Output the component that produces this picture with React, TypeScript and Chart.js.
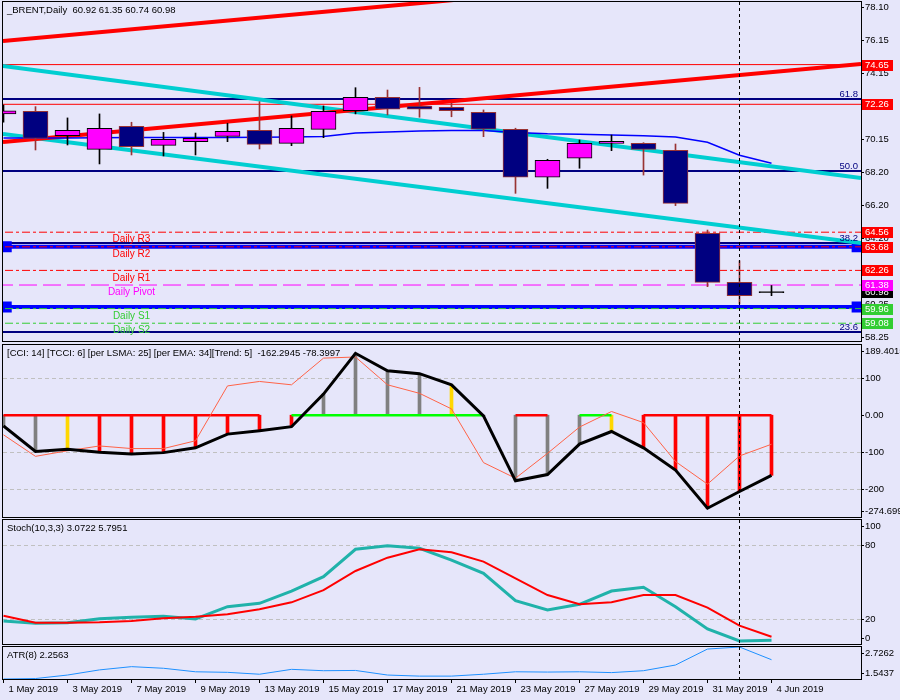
import React, { useEffect, useRef } from "react";
import { Chart, registerables } from "chart.js";

Chart.register(...registerables);

// ---------------- data ----------------
const dates = [
  "1 May 2019", "2 May 2019", "3 May 2019", "6 May 2019", "7 May 2019", "8 May 2019",
  "9 May 2019", "10 May 2019", "13 May 2019", "14 May 2019", "15 May 2019", "16 May 2019",
  "17 May 2019", "20 May 2019", "21 May 2019", "22 May 2019", "23 May 2019", "24 May 2019",
  "27 May 2019", "28 May 2019", "29 May 2019", "30 May 2019", "31 May 2019", "3 Jun 2019", "4 Jun 2019",
];
const opens = [71.68, 71.84, 70.37, 69.55, 70.94, 69.79, 70.01, 70.33, 70.69, 69.91, 70.75, 71.87, 72.68, 72.16, 72.08, 71.78, 70.76, 67.87, 69.01, 69.91, 69.91, 69.49, 64.49, 61.54, 60.92];
const highs = [72.22, 72.12, 71.44, 71.68, 71.18, 70.57, 70.53, 71.12, 72.42, 71.56, 72.16, 73.26, 73.12, 73.28, 72.32, 71.92, 70.82, 68.95, 70.11, 70.41, 69.95, 69.87, 64.69, 62.84, 61.35];
const lows = [71.19, 69.51, 69.81, 68.67, 69.21, 69.15, 69.21, 70.01, 69.57, 69.77, 70.25, 71.68, 71.62, 71.48, 71.51, 70.31, 66.9, 67.2, 68.41, 69.47, 68.0, 66.16, 61.28, 60.24, 60.74];
const closes = [71.87, 70.21, 70.69, 70.82, 69.71, 70.15, 70.21, 70.63, 69.85, 70.82, 71.84, 72.68, 71.96, 71.96, 71.87, 70.76, 67.87, 68.89, 69.91, 70.03, 69.55, 66.3, 61.54, 60.74, 60.98];
const maLine = [70.23, 70.23, 70.23, 70.25, 70.26, 70.26, 70.26, 70.26, 70.27, 70.29, 70.32, 70.53, 70.59, 70.65, 70.69, 70.69, 70.56, 70.48, 70.45, 70.41, 70.37, 70.29, 69.97, 69.19, 68.71];

// trend lines: [price at left edge, price at right edge]
const channelUpper = [76.07, 80.77];
const channelLower = [69.99, 74.69];
const cyanUpper = [74.57, 67.82];
const cyanLower = [70.47, 63.91];

const redLevels = [74.65, 72.26];
const blueLevels = [63.68, 60.06];
const fibNames = ["61.8", "50.0", "38.2", "23.6"];
const fibValues = [72.58, 68.24, 63.91, 58.55];
const pivotNames = ["Daily R3", "Daily R2", "Daily R1", "Daily Pivot", "Daily S1", "Daily S2"];
const pivotValues = [64.56, 63.68, 62.26, 61.38, 59.96, 59.08];
const pivotKinds = ["R", "R", "R", "P", "S", "S"];
const lastPrice = 60.98;
const priceTicks = [78.1, 76.15, 74.15, 72.15, 70.15, 68.2, 66.2, 64.2, 62.25, 60.25, 58.25];

const tcci = [-29, -98, -92, -100, -105, -101, -88, -51, -42, -31, 57, 167, 120, 112, 82, -2, -177, -160, -78, -44, -88, -148, -251, -206, -162.2945];
const cci = [-53, -111, -96, -83, -90, -90, -69, 79, 91, 82, 154, 157, 82, 59, 17, -128, -170, -103, -32, 10, -20, -125, -186, -110, -78.3997];
const histKind = ["g", "g", "y", "r", "r", "r", "r", "r", "r", "r", "g", "g", "g", "g", "y", "g", "g", "g", "g", "y", "r", "r", "r", "r", "r"];
const trendUp = [0, 0, 0, 0, 0, 0, 0, 0, 0, 1, 1, 1, 1, 1, 1, 1, 0, 0, 1, 1, 0, 0, 0, 0, 0];
const cciTicks = [189.4015, 100, 0, -100, -200, -274.699];
const cciTickText = ["189.4015", "100", "0.00", "-100", "-200", "-274.699"];
const cciGrid = [100, -100, -200];

const stochMain = [18.5, 16.7, 17.2, 20.4, 21.5, 22.3, 20.2, 30.1, 32.8, 42.7, 54.3, 76.4, 79.3, 77.2, 67.7, 57, 34.9, 27.4, 32, 42.7, 45.7, 30.1, 12.1, 2.4, 3.0722];
const stochSignal = [22.8, 17.2, 17.2, 17.5, 18.5, 20.7, 22, 24, 28, 33.6, 43.5, 58.9, 69.6, 76.4, 74, 66.4, 53, 39.5, 32, 33.6, 39.5, 39.5, 29.3, 14.8, 5.7951];
const stochTicks = [100, 80, 20, 0];
const stochGrid = [80, 20];

const atr = [1.5437, 1.56, 1.69, 1.88, 2.0, 1.94, 1.81, 1.79, 1.72, 1.9, 1.85, 1.86, 1.69, 1.65, 1.65, 1.72, 1.81, 1.8, 1.81, 1.78, 1.85, 2.06, 2.65, 2.7262, 2.2563];
const atrTicks = [2.7262, 1.5437];

const xTickIdx = [0, 2, 4, 6, 8, 10, 12, 14, 16, 18, 20, 22, 24];
const cursorIndex = 23;
const pivotLabelBar = 4;

// ---------------- layout / style ----------------
const FONT = '"Liberation Sans", Arial, sans-serif';
const BG = "#E6E6FA";
const X_MIN = -1 / 64;
const X_MAX = X_MIN + 858 / 32;
const PRICE_MAX = 78.419;
const PRICE_MIN = 58.01;
const RED = "#FF0000";
const GREEN = "#32CD32";
const MAGENTA = "#FF00FF";
const NAVY = "#000080";

function hLine(value: number, color: string, width: number, dash: number[], order: number) {
  return {
    type: "line",
    data: [{ x: X_MIN - 1, y: value }, { x: X_MAX + 1, y: value }],
    borderColor: color,
    borderWidth: width,
    borderDash: dash,
    pointRadius: 0,
    order,
    clip: 0,
  };
}

function edgeLine(vals: number[], color: string, width: number, order: number) {
  return {
    type: "line",
    data: [{ x: X_MIN, y: vals[0] }, { x: X_MAX, y: vals[1] }],
    borderColor: color,
    borderWidth: width,
    pointRadius: 0,
    order,
    clip: 0,
  };
}

function seriesLine(vals: number[], color: string, width: number, order: number) {
  return {
    type: "line",
    data: vals.map((v, i) => ({ x: i, y: v })),
    borderColor: color,
    borderWidth: width,
    pointRadius: 0,
    tension: 0,
    order,
    clip: 0,
  };
}

function decor(id: string, o: any) {
  return {
    id,
    beforeDatasetsDraw(chart: any) {
      if (!o.grid) return;
      const { ctx, chartArea: a, scales } = chart;
      const y = scales.y;
      ctx.save();
      ctx.strokeStyle = "#C0C0C0";
      ctx.lineWidth = 1;
      ctx.setLineDash([4, 3]);
      o.grid.forEach((v: number) => {
        const py = Math.round(y.getPixelForValue(v)) + 0.5;
        ctx.beginPath();
        ctx.moveTo(a.left, py);
        ctx.lineTo(a.right, py);
        ctx.stroke();
      });
      ctx.restore();
    },
    afterDatasetsDraw(chart: any) {
      const { ctx, chartArea: a, scales } = chart;
      const x = scales.x;
      const y = scales.y;
      ctx.save();
      // cursor line
      const vx = Math.round(x.getPixelForValue(cursorIndex) - 0.5) + 0.5;
      ctx.strokeStyle = "#000";
      ctx.lineWidth = 1;
      ctx.setLineDash([3, 3]);
      ctx.beginPath();
      ctx.moveTo(vx, a.top);
      ctx.lineTo(vx, a.bottom);
      ctx.stroke();
      ctx.setLineDash([]);
      // frame
      ctx.strokeRect(a.left - 0.5, a.top - 0.5, a.right - a.left + 1, a.bottom - a.top + 1);
      // header
      ctx.fillStyle = "#000";
      ctx.font = `9.5px ${FONT}`;
      ctx.textBaseline = "middle";
      ctx.textAlign = "left";
      ctx.fillText(o.header, 7, a.top + 8.5);
      // axis labels
      o.ticks.forEach((v: number, i: number) => {
        const py = y.getPixelForValue(v);
        const ty = o.clamp ? Math.min(Math.max(py, a.top + 6), a.bottom - 6) : py;
        ctx.beginPath();
        ctx.moveTo(a.right, Math.round(ty) + 0.5);
        ctx.lineTo(a.right + 3, Math.round(ty) + 0.5);
        ctx.stroke();
        ctx.fillText(o.tickText[i], 865, ty + 0.5);
      });
      if (o.extra) o.extra(chart, ctx);
      ctx.restore();
    },
  };
}

function baseOptions(yMin: number, yMax: number, padding: any, showX: boolean) {
  const x: any = showX
    ? {
        type: "linear",
        min: X_MIN,
        max: X_MAX,
        offset: false,
        display: true,
        position: "bottom",
        afterBuildTicks: (s: any) => {
          s.ticks = xTickIdx.map((v) => ({ value: v }));
        },
        afterFit: (s: any) => {
          s.height = 21;
        },
        ticks: {
          autoSkip: false,
          maxRotation: 0,
          align: "start",
          labelOffset: 5,
          padding: 1,
          color: "#000",
          font: { family: FONT, size: 9.5 },
          callback: (v: number) => dates[v],
        },
        grid: { drawOnChartArea: false, drawTicks: true, tickLength: 4, color: "#000", offset: false },
        border: { display: true, color: "#000" },
      }
    : { type: "linear", min: X_MIN, max: X_MAX, offset: false, display: false };
  return {
    responsive: false,
    maintainAspectRatio: false,
    animation: false,
    devicePixelRatio: 1,
    events: [],
    layout: { padding },
    plugins: { legend: { display: false }, tooltip: { enabled: false } },
    scales: {
      x,
      y: { type: "linear", min: yMin, max: yMax, display: false, beginAtZero: false },
    },
  };
}

// ---------------- panels ----------------
function buildMain() {
  const bull = closes.map((c, i) => c >= opens[i]);
  const doji = closes.map((c, i) => Math.abs(c - opens[i]) < 0.1);
  const edge = bull.map((b) => (b ? "#000000" : "#993333"));
  const pivotColor = (k: string) => (k === "R" ? RED : k === "P" ? MAGENTA : GREEN);
  const datasets: any[] = [
    {
      type: "bar",
      data: opens.map((o, i) => ({ x: i, y: [o, closes[i]] })),
      backgroundColor: bull.map((b, i) => (doji[i] ? edge[i] : b ? MAGENTA : NAVY)),
      borderColor: edge,
      borderWidth: 1,
      borderSkipped: false,
      barThickness: 25,
      grouped: false,
      order: 0,
      clip: 0,
    },
    {
      type: "bar",
      data: lows.map((l, i) => ({ x: i, y: [l, highs[i]] })),
      backgroundColor: edge,
      borderWidth: 0,
      barThickness: 1,
      grouped: false,
      order: 1,
      clip: 0,
    },
    seriesLine(maLine, "#0000FF", 1.5, 2),
    edgeLine(channelUpper, RED, 4, 3),
    edgeLine(channelLower, RED, 4, 3),
    edgeLine(cyanUpper, "#00CED1", 4, 3),
    edgeLine(cyanLower, "#00CED1", 4, 3),
  ];
  pivotValues.forEach((v, i) => {
    const k = pivotKinds[i];
    datasets.push(hLine(v, pivotColor(k), 1, k === "P" ? [18, 6] : [8, 3, 3, 3], 4));
  });
  blueLevels.forEach((v) => {
    datasets.push({
      type: "line",
      data: [
        { x: X_MIN - 1, y: v },
        { x: X_MIN + 0.1, y: v },
        { x: X_MAX - 0.12, y: v },
        { x: X_MAX + 1, y: v },
      ],
      borderColor: "#0000FF",
      borderWidth: 4,
      pointStyle: "rect",
      pointRadius: [0, 5, 5, 0],
      pointBackgroundColor: "#0000FF",
      pointBorderColor: "#0000FF",
      order: 5,
      clip: 0,
    });
  });
  fibValues.forEach((v) => datasets.push(hLine(v, NAVY, 2, [], 6)));
  redLevels.forEach((v) => datasets.push(hLine(v, RED, 1, [], 6)));

  const boxes = [
    { v: redLevels[0], bg: RED },
    { v: redLevels[1], bg: RED },
    { v: pivotValues[0], bg: RED },
    { v: pivotValues[1], bg: RED },
    { v: pivotValues[2], bg: RED },
    { v: lastPrice, bg: "#000000" },
    { v: pivotValues[3], bg: MAGENTA },
    { v: pivotValues[4], bg: GREEN },
    { v: pivotValues[5], bg: GREEN },
  ];

  const extra = (chart: any, ctx: any) => {
    const { chartArea: a, scales } = chart;
    const x = scales.x;
    const y = scales.y;
    ctx.textBaseline = "middle";
    ctx.font = `10px ${FONT}`;
    ctx.textAlign = "center";
    const lx = x.getPixelForValue(pivotLabelBar);
    pivotValues.forEach((v, i) => {
      ctx.fillStyle = pivotColor(pivotKinds[i]);
      ctx.fillText(pivotNames[i], lx, y.getPixelForValue(v) + 7.5);
    });
    ctx.textAlign = "right";
    ctx.fillStyle = NAVY;
    ctx.font = `9.5px ${FONT}`;
    fibValues.forEach((v, i) => ctx.fillText(fibNames[i], a.right - 3, y.getPixelForValue(v) - 5));
    ctx.textAlign = "left";
    boxes.forEach((b) => {
      const py = Math.round(y.getPixelForValue(b.v));
      ctx.fillStyle = b.bg;
      ctx.fillRect(a.right + 1, py - 5, 31, 11);
      ctx.fillStyle = "#FFFFFF";
      ctx.fillText(b.v.toFixed(2), a.right + 4, py + 0.5);
    });
  };

  return {
    type: "bar",
    data: { datasets },
    options: baseOptions(PRICE_MIN, PRICE_MAX, { left: 3, right: 39, top: 2, bottom: 2 }, false),
    plugins: [
      decor("mainDecor", {
        header: "_BRENT,Daily  60.92 61.35 60.74 60.98",
        ticks: priceTicks,
        tickText: priceTicks.map((v) => v.toFixed(2)),
        clamp: false,
        extra,
      }),
    ],
  };
}

function buildCci() {
  const histColor = histKind.map((k) => (k === "r" ? RED : k === "y" ? "#FFD700" : "#808080"));
  const datasets: any[] = [
    seriesLine(tcci, "#000000", 3, 0),
    seriesLine(cci, "#FF6347", 1, 1),
    {
      type: "line",
      data: tcci.map((_, i) => ({ x: i, y: 0 })),
      borderWidth: 2.5,
      pointRadius: 0,
      order: 2,
      clip: 0,
      segment: {
        borderColor: (c: any) =>
          trendUp[c.p0DataIndex] !== trendUp[c.p1DataIndex]
            ? "rgba(0,0,0,0)"
            : trendUp[c.p0DataIndex] === 1
            ? "#00FF00"
            : RED,
      },
    },
    {
      type: "bar",
      data: tcci.map((v, i) => ({ x: i, y: [0, v] })),
      backgroundColor: histColor,
      borderWidth: 0,
      barThickness: 3,
      grouped: false,
      order: 3,
      clip: 0,
    },
  ];
  return {
    type: "bar",
    data: { datasets },
    options: baseOptions(cciTicks[cciTicks.length - 1], cciTicks[0], { left: 3, right: 39, top: 2, bottom: 1 }, false),
    plugins: [
      decor("cciDecor", {
        header: "[CCI: 14] [TCCI: 6] [per LSMA: 25] [per EMA: 34][Trend: 5]  -162.2945 -78.3997",
        ticks: cciTicks,
        tickText: cciTickText,
        clamp: true,
        grid: cciGrid,
      }),
    ],
  };
}

function buildStoch() {
  const datasets: any[] = [seriesLine(stochSignal, RED, 2, 0), seriesLine(stochMain, "#20B2AA", 3, 1)];
  return {
    type: "line",
    data: { datasets },
    options: baseOptions(0, 100, { left: 3, right: 39, top: 2, bottom: 1 }, false),
    plugins: [
      decor("stochDecor", {
        header: "Stoch(10,3,3) 3.0722 5.7951",
        ticks: stochTicks,
        tickText: stochTicks.map((v) => String(v)),
        clamp: true,
        grid: stochGrid,
      }),
    ],
  };
}

function buildAtr() {
  const datasets: any[] = [seriesLine(atr, "#1E90FF", 1, 0)];
  return {
    type: "line",
    data: { datasets },
    options: baseOptions(atrTicks[1], atrTicks[0], { left: 3, right: 39, top: 2, bottom: 0 }, true),
    plugins: [
      decor("atrDecor", {
        header: "ATR(8) 2.2563",
        ticks: atrTicks,
        tickText: atrTicks.map((v) => v.toFixed(4)),
        clamp: true,
      }),
    ],
  };
}

function Panel({ top, height, build }: { top: number; height: number; build: () => any }) {
  const ref = useRef<HTMLCanvasElement | null>(null);
  useEffect(() => {
    if (!ref.current) return;
    const chart = new Chart(ref.current, build());
    return () => chart.destroy();
  }, [build]);
  return (
    <canvas
      ref={ref}
      width={900}
      height={height}
      style={{ position: "absolute", left: 0, top, width: 900, height, display: "block" }}
    />
  );
}

export default function App() {
  return (
    <div
      style={{
        position: "fixed",
        left: 0,
        top: 0,
        width: 900,
        height: 700,
        background: BG,
        overflow: "hidden",
      }}
    >
      <Panel top={0} height={343} build={buildMain} />
      <Panel top={343} height={175} build={buildCci} />
      <Panel top={518} height={127} build={buildStoch} />
      <Panel top={645} height={55} build={buildAtr} />
    </div>
  );
}
